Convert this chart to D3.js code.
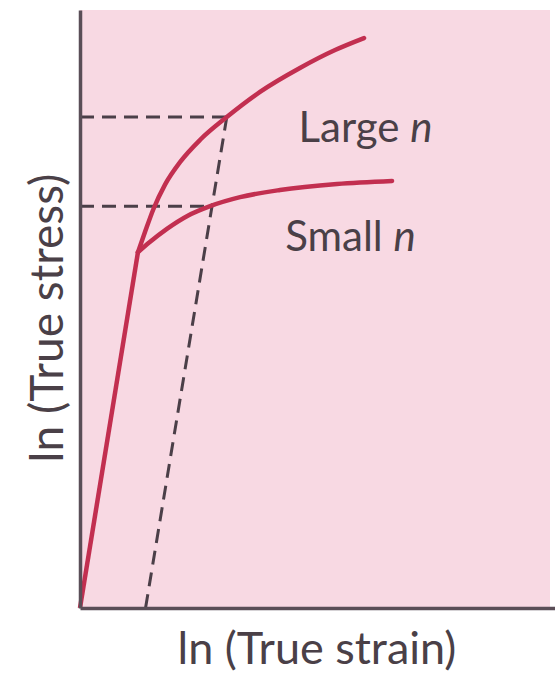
<!DOCTYPE html>
<html>
<head>
<meta charset="utf-8">
<script src="https://cdn.jsdelivr.net/npm/d3@7"></script>
<style>
  html, body { margin: 0; padding: 0; background: #fff; }
  svg { display: block; }
  text { font-family: Lato, "Open Sans", sans-serif; fill: #4a4047; }
</style>
</head>
<body>
<svg id="chart" width="555" height="677"></svg>
<script>
// Schematic log–log flow curves (arbitrary units, 0–100 on both axes)
const elastic = [[0, 0], [12.2, 59.5]];
const largeN = [[12.2, 59.5], [13.7, 62.9], [15.4, 66.6], [17.9, 70.8], [21.1, 74.6],
                [25.3, 78.3], [30.9, 82.1], [37.9, 86.3], [46.3, 90.3], [53.7, 93.3],
                [59.8, 95.3]];
const smallN = [[12.2, 59.5], [14.7, 61.2], [18.3, 63.4], [22.7, 65.6], [27.4, 67.2],
                [33.7, 68.7], [42.1, 69.9], [54.1, 70.9], [65.7, 71.4]];
// Offset line parallel to the elastic slope, and the stress levels it cuts
const offsetLine = [[13.8, 0], [30.9, 82.1]];
const levelLarge = [[0, 82.1], [30.9, 82.1]];
const levelSmall = [[0, 67.2], [27.4, 67.2]];
const curveLabels = [
  { name: "Large ", italic: "n", at: [46.0, 78.0] },
  { name: "Small ", italic: "n", at: [43.2, 59.7] }
];
const xTitle = "ln (True strain)";
const yTitle = "ln (True stress)";

const svg = d3.select("#chart");
const x = d3.scaleLinear().domain([0, 100]).range([80, 555]);
const y = d3.scaleLinear().domain([0, 100]).range([608, 10]);

// Plot background
svg.append("rect")
  .attr("x", x(0)).attr("y", y(100))
  .attr("width", 550 - x(0)).attr("height", y(0) - y(100))
  .attr("fill", "#f8d9e3");

const line = d3.line().x(d => x(d[0])).y(d => y(d[1]));
const smooth = d3.line().x(d => x(d[0])).y(d => y(d[1])).curve(d3.curveMonotoneX);

const dashColor = "#4b3f48";
[levelLarge, levelSmall, offsetLine].forEach(seg => {
  svg.append("path").attr("d", line(seg))
    .attr("fill", "none").attr("stroke", dashColor)
    .attr("stroke-width", 3).attr("stroke-dasharray", "14,8");
});

const red = "#c22f50";
svg.append("path").attr("d", line(elastic))
  .attr("fill", "none").attr("stroke", red).attr("stroke-width", 4.5)
  .attr("stroke-linejoin", "round");
[largeN, smallN].forEach(c => {
  svg.append("path").attr("d", smooth(c))
    .attr("fill", "none").attr("stroke", red).attr("stroke-width", 4.5)
    .attr("stroke-linecap", "round");
});

// Axes without ticks
const axisStyle = g => {
  g.select(".domain").attr("stroke", "#5a4e57").attr("stroke-width", 3.5);
};
svg.append("g").attr("transform", `translate(0,${y(0)})`)
  .call(d3.axisBottom(x).tickValues([]).tickSizeOuter(0)).call(axisStyle);
svg.append("g").attr("transform", `translate(${x(0)},0)`)
  .call(d3.axisLeft(y).tickValues([]).tickSizeOuter(0)).call(axisStyle);

// Curve labels
curveLabels.forEach(l => {
  const t = svg.append("text")
    .attr("x", x(l.at[0])).attr("y", y(l.at[1]))
    .attr("font-size", 42);
  t.append("tspan").text(l.name);
  t.append("tspan").attr("font-style", "italic").text(l.italic);
});

// Axis titles
svg.append("text")
  .attr("x", 317).attr("y", 664)
  .attr("text-anchor", "middle").attr("font-size", 45)
  .text(xTitle);
svg.append("text")
  .attr("transform", "translate(63,318) rotate(-90)")
  .attr("text-anchor", "middle").attr("font-size", 46)
  .text(yTitle);
</script>
</body>
</html>
